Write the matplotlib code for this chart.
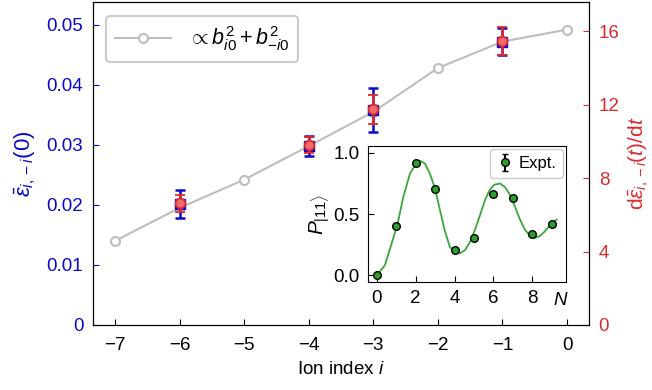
#!/usr/bin/env python3

import matplotlib
matplotlib.use("Agg")
import matplotlib.pyplot as plt

plt.rcParams['font.family'] = ['Liberation Sans', 'DejaVu Sans']
plt.rcParams['mathtext.fontset'] = 'custom'
plt.rcParams['mathtext.rm'] = 'Liberation Sans'
plt.rcParams['mathtext.it'] = 'Liberation Sans:italic'
plt.rcParams['font.size'] = 13.5

# theory curve (left axis units)
ion_idx = [-7, -6, -5, -4, -3, -2, -1, 0]
theory = [0.0140, 0.0195, 0.0242, 0.0298, 0.0355, 0.0428, 0.0472, 0.0492]

# measured points
meas_idx = [-6, -4, -3, -1]
eps0 = [0.0202, 0.0298, 0.0358, 0.0472]
eps0_err = [0.0023, 0.0017, 0.0037, 0.0022]
rate = [6.64, 9.80, 11.75, 15.45]
rate_err = [0.46, 0.44, 0.80, 0.76]

# inset: P_|11> vs N
n_pts = [0, 1, 2, 3, 4, 5, 6, 7, 8, 9]
p11 = [0.0, 0.40, 0.915, 0.705, 0.205, 0.306, 0.661, 0.631, 0.336, 0.415]
p11_err = [0.01] * 10
fit_n = [0, 0.41, 0.76, 1.05, 1.36, 1.70, 2.04, 2.22, 2.47, 2.73, 2.99, 3.25,
         3.51, 3.76, 4.02, 4.28, 4.54, 4.79, 5.05, 5.31, 5.57, 5.82, 6.05,
         6.34, 6.60, 6.86, 7.11, 7.37, 7.63, 7.89, 8.14, 8.40, 8.66, 8.92, 9.26]
fit_p = [0, 0.08, 0.26, 0.41, 0.64, 0.83, 0.92, 0.935, 0.915, 0.83, 0.71, 0.53,
         0.355, 0.23, 0.185, 0.178, 0.205, 0.27, 0.37, 0.49, 0.615, 0.70, 0.74,
         0.75, 0.72, 0.655, 0.56, 0.455, 0.37, 0.32, 0.305, 0.32, 0.36, 0.41, 0.455]

blue = '#0a0acc'
red = '#dd2a2e'
gray = '#bdbdbd'

fig = plt.figure(figsize=(6.52, 3.9), dpi=100)
ax = fig.add_axes([0.1426, 0.1667, 0.7608, 0.8282])
ax2 = ax.twinx()

ax.plot(ion_idx, theory, '-o', color=gray, lw=1.5, ms=6.5, mfc='white', mec=gray, mew=1.5,
        label=r'$\propto b_{i0}^2 + b_{-i0}^2$', zorder=1)
ax.errorbar(meas_idx, eps0, yerr=eps0_err, fmt='s', color=blue, ms=7.5, capsize=3.5,
            elinewidth=1.8, capthick=1.8, zorder=3)
ax2.errorbar(meas_idx, rate, yerr=rate_err, fmt='o', color=red, mfc='#f06a70', mec=red,
             ms=7, mew=1.3, capsize=3.5, elinewidth=1.8, capthick=1.8, zorder=4)

ax.set_xlim(-7.34, 0.34)
ax.set_ylim(0, 0.0538)
ax2.set_ylim(0, 17.6)
ax.set_xticks([-7, -6, -5, -4, -3, -2, -1, 0])
ax.set_xticklabels(['\u22127', '\u22126', '\u22125', '\u22124', '\u22123', '\u22122', '\u22121', '0'])
ax.set_yticks([0, 0.01, 0.02, 0.03, 0.04, 0.05])
ax.set_yticklabels(['0', '0.01', '0.02', '0.03', '0.04', '0.05'])
ax2.set_yticks([0, 4, 8, 12, 16])

ax.tick_params(axis='x', direction='in', length=4, pad=9)
ax.tick_params(axis='y', direction='in', length=4, pad=7, colors=blue)
ax2.tick_params(axis='y', direction='in', length=4, pad=7, colors=red)
ax.set_xlabel(r'Ion index $i$', labelpad=5)
ax.set_ylabel(r'$\bar{\varepsilon}_{i,-i}(0)$', color=blue, labelpad=6, fontsize=16)
ax2.set_ylabel(r'd$\bar{\varepsilon}_{i,-i}(t)$/d$t$', color=red, labelpad=5, fontsize=15)

leg = ax.legend(loc='upper left', bbox_to_anchor=(0.005, 0.99), framealpha=1,
                edgecolor='#cccccc', handlelength=2.6, fontsize=15.5)
leg.get_frame().set_linewidth(1.5)

# inset
axi = fig.add_axes([0.5644, 0.2769, 0.3037, 0.3487])
axi.plot(fit_n, fit_p, '-', color='#3aa83a', lw=1.3)
axi.errorbar(n_pts, p11, yerr=p11_err, fmt='o', color='black', mfc='#2e9e2e', mec='black',
             ms=5.5, mew=1, ecolor='black', capsize=2, label='Expt.', zorder=3)
axi.set_xlim(-0.46, 9.74)
axi.set_ylim(-0.057, 1.057)
axi.set_xticks([0, 2, 4, 6, 8])
axi.set_yticks([0, 0.5, 1.0])
axi.tick_params(direction='in', length=4, pad=6)
axi.set_ylabel(r'$P_{|11\rangle}$', labelpad=2, fontsize=15)
axi.text(9.45, -0.075, r'$N$', transform=axi.get_xaxis_transform(), ha='center', va='top')
axi.legend(loc='upper right', borderaxespad=0.2, handletextpad=0.3, handlelength=1,
           framealpha=1, edgecolor='#cccccc', fontsize=12)

fig.savefig('out.png', dpi=100)
